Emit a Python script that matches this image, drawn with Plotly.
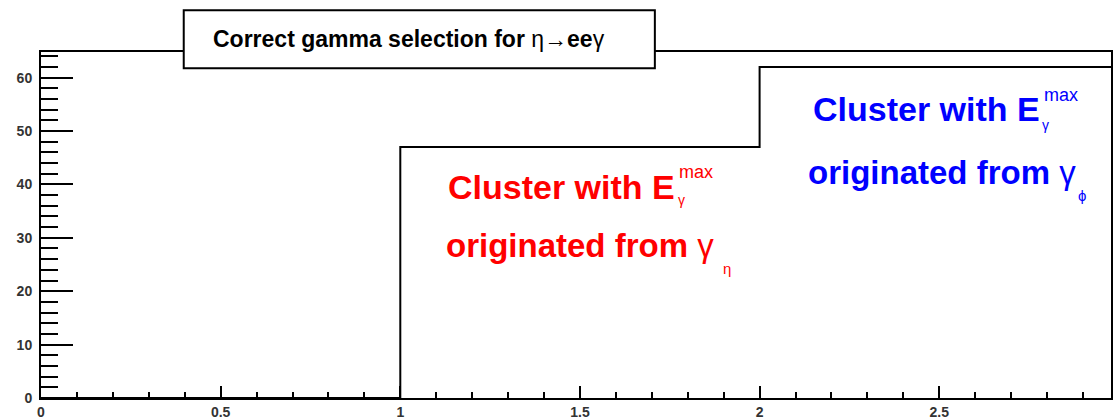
import plotly.graph_objects as go

# Histogram: bin edges and counts per bin
bin_edges = [0.0, 1.0, 2.0, 3.0]
bin_counts = [0, 47, 62]

x_range = [0.0, 2.978]
y_range = [0.0, 64.8]

title_text = "<b>Correct gamma selection for</b> \u03b7\u2192<b>ee</b>\u03b3"

FONT = "Liberation Sans, Arial, sans-serif"

# step outline (ROOT-style histogram)
step_x = bin_edges
step_y = bin_counts + [bin_counts[-1]]

fig = go.Figure()
fig.add_trace(go.Scatter(
    x=step_x, y=step_y, mode="lines", line_shape="hv",
    line=dict(color="black", width=2), hoverinfo="skip", showlegend=False,
))

tickfont = dict(family=FONT, size=14, color="#333333", weight="bold")

fig.update_xaxes(
    range=x_range, showline=True, linecolor="black", linewidth=2, mirror=True,
    showgrid=False, zeroline=False, ticks="inside", ticklen=12, tickwidth=2,
    tickcolor="black", dtick=0.5, tick0=0, tickfont=tickfont,
    minor=dict(ticks="inside", ticklen=6, tickwidth=2, tickcolor="black",
               dtick=0.1, showgrid=False),
)
fig.update_yaxes(
    range=y_range, showline=True, linecolor="black", linewidth=2, mirror=True,
    showgrid=False, zeroline=False, ticks="inside", ticklen=32, tickwidth=2,
    tickcolor="black", dtick=10, tick0=0, tickfont=tickfont,
    ticklabelstandoff=4,
    minor=dict(ticks="inside", ticklen=17, tickwidth=2, tickcolor="black",
               dtick=2, showgrid=False),
)

# title box
fig.add_shape(type="rect", xref="paper", yref="paper",
              x0=0.1334, x1=0.5737, y0=0.953, y1=1.121,
              fillcolor="white", line=dict(color="black", width=2), layer="above")
fig.add_annotation(text=title_text, xref="paper", yref="paper",
                   x=0.1585, y=1.0387, xanchor="left", yanchor="middle",
                   showarrow=False, font=dict(family=FONT, size=23, color="black"))


def label(x, y, text, color, size, bold=False):
    fig.add_annotation(
        x=x, y=y, xref="x", yref="y", xanchor="left", yanchor="middle",
        text=f"<b>{text}</b>" if bold else text, showarrow=False,
        font=dict(family=FONT, size=size, color=color),
    )


RED = "#ff0000"
BLUE = "#0000ff"

# label for the 1-2 bin
label(1.128, 39.6, "Cluster with E", RED, 34, bold=True)
label(1.770, 42.3, "max", RED, 18)
label(1.766, 37.0, "\u03b3", RED, 14)
label(1.122, 28.5, "<b>originated from </b>\u03b3", RED, 33)
label(1.892, 24.2, "\u03b7", RED, 15)

# label for the 2-3 bin
label(2.144, 54.1, "Cluster with E", BLUE, 34, bold=True)
label(2.786, 56.8, "max", BLUE, 18)
label(2.780, 51.1, "\u03b3", BLUE, 14)
label(2.128, 42.3, "<b>originated from </b>\u03b3", BLUE, 33)
label(2.881, 37.9, "\u03d5", BLUE, 15)

fig.update_layout(
    width=1113, height=420,
    margin=dict(l=41, r=0, t=52, b=17),
    plot_bgcolor="white", paper_bgcolor="white",
    font=dict(family=FONT),
)

fig.write_html("out.html")
